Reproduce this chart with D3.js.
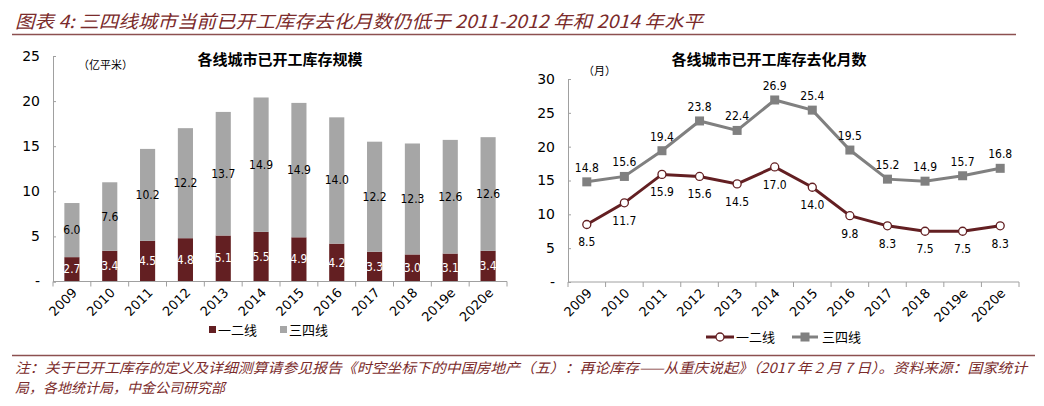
<!DOCTYPE html>
<html><head><meta charset="utf-8">
<script src="https://cdn.jsdelivr.net/npm/d3@7"></script>
<style>
body{margin:0;background:#fff;}
svg{display:block;}
</style></head>
<body>
<svg id="c" width="1044" height="406"></svg>
<script>
const categories = ['2009','2010','2011','2012','2013','2014','2015','2016','2017','2018','2019e','2020e'];
const stockTier12 = [2.7,3.4,4.5,4.8,5.1,5.5,4.9,4.2,3.3,3.0,3.1,3.4];
const stockTier34 = [6.0,7.6,10.2,12.2,13.7,14.9,14.9,14.0,12.2,12.3,12.6,12.6];
const monthsTier12 = [8.5,11.7,15.9,15.6,14.5,17.0,14.0,9.8,8.3,7.5,7.5,8.3];
const monthsTier34 = [14.8,15.6,19.4,23.8,22.4,26.9,25.4,19.5,15.2,14.9,15.7,16.8];
const leftTicks = [0,5,10,15,20,25];
const rightTicks = [0,5,10,15,20,25,30];
const seriesNames = ['一二线','三四线'];

const DARK = '#631f22', GRAY = '#a6a6a6', LGRAY = '#808080', AXIS = '#a0a0a0', RED = '#7b2b2b';
const NUM = '"DejaVu Sans Condensed","DejaVu Sans",Verdana,sans-serif';
const AXF = '"DejaVu Sans",Verdana,sans-serif';
const CJK = '"Noto Sans CJK SC","Noto Sans",sans-serif';

const svg = d3.select('#c');

// Header
svg.append('text').attr('x',15).attr('y',28)
  .attr('font-family',CJK).attr('font-style','italic').attr('font-size',18).attr('fill',RED)
  .attr('textLength',688).attr('lengthAdjust','spacingAndGlyphs')
  .text('图表 4: 三四线城市当前已开工库存去化月数仍低于 2011-2012 年和 2014 年水平');
svg.append('line').attr('x1',12).attr('x2',1016).attr('y1',34.5).attr('y2',34.5)
  .attr('stroke','#8c5050').attr('stroke-width',1.5);

// ---------- Left chart ----------
const xL = d3.scaleBand().domain(categories).range([53,507]).paddingInner(0.6).paddingOuter(0.3);
const xLb = d3.scaleBand().domain(categories).range([53,507]);
const yL = d3.scaleLinear().domain([0,25]).range([281.5,56]);

const gL = svg.append('g');
const yAxL = d3.axisLeft(yL).tickValues(leftTicks).tickSize(-3).tickPadding(13)
  .tickFormat(d=> d===0 ? '-' : d);
const gyL = gL.append('g').attr('transform','translate(53,0)').call(yAxL);
gyL.select('.domain').attr('stroke',AXIS);
gyL.selectAll('.tick line').attr('stroke',AXIS);
gyL.selectAll('.tick text').attr('font-family',AXF).attr('font-size',14).attr('fill','#000');

const stacked = categories.map((c,i)=>({c, a:stockTier12[i], b:stockTier34[i]}));
gL.selectAll('rect.d').data(stacked).enter().append('rect')
  .attr('x',d=>xL(d.c)).attr('width',xL.bandwidth())
  .attr('y',d=>yL(d.a)).attr('height',d=>yL(0)-yL(d.a)).attr('fill',DARK);
gL.selectAll('rect.g').data(stacked).enter().append('rect')
  .attr('x',d=>xL(d.c)).attr('width',xL.bandwidth())
  .attr('y',d=>yL(d.a+d.b)).attr('height',d=>yL(d.a)-yL(d.a+d.b)).attr('fill',GRAY);
gL.selectAll('text.ld').data(stacked).enter().append('text')
  .attr('x',d=>xL(d.c)+xL.bandwidth()/2).attr('y',d=>yL(d.a/2)+4)
  .attr('text-anchor','middle').attr('font-family',NUM).attr('font-size',12).attr('fill','#fff')
  .text(d=>d.a.toFixed(1));
gL.selectAll('text.lg').data(stacked).enter().append('text')
  .attr('x',d=>xL(d.c)+xL.bandwidth()/2).attr('y',d=>yL(d.a+d.b/2)+4)
  .attr('text-anchor','middle').attr('font-family',NUM).attr('font-size',12).attr('fill','#000')
  .text(d=>d.b.toFixed(1));

function xAxis(g, band, x0, x1, y){
  g.append('line').attr('x1',x0).attr('x2',x1).attr('y1',y).attr('y2',y).attr('stroke',AXIS);
  const bounds = band.domain().map(d=>band(d)).concat([x1]);
  g.selectAll('line.t').data(bounds).enter().append('line')
    .attr('x1',d=>d).attr('x2',d=>d).attr('y1',y).attr('y2',y+5).attr('stroke',AXIS);
  g.selectAll('text.xl').data(band.domain()).enter().append('text')
    .attr('transform',d=>`translate(${band(d)+band.bandwidth()/2+6},${y+12}) rotate(-45)`)
    .attr('text-anchor','end').attr('font-family',AXF).attr('font-size',13).attr('fill','#000')
    .text(d=>d);
}
xAxis(gL, xLb, 53, 507, 281.5);

gL.append('text').attr('x',280).attr('y',65).attr('text-anchor','middle')
  .attr('font-family',CJK).attr('font-weight','bold').attr('font-size',15).attr('fill','#000')
  .text('各线城市已开工库存规模');
gL.append('text').attr('x',78).attr('y',69)
  .attr('font-family',CJK).attr('font-size',11).attr('fill','#000').text('（亿平米）');

const legL = gL.append('g');
legL.append('rect').attr('x',209).attr('y',326).attr('width',7).attr('height',7).attr('fill',DARK);
legL.append('text').attr('x',218).attr('y',335).attr('font-family',CJK).attr('font-size',13).text(seriesNames[0]);
legL.append('rect').attr('x',280).attr('y',326).attr('width',7).attr('height',7).attr('fill',GRAY);
legL.append('text').attr('x',289).attr('y',335).attr('font-family',CJK).attr('font-size',13).text(seriesNames[1]);

// ---------- Right chart ----------
const xR = d3.scaleBand().domain(categories).range([568,1019]);
const yR = d3.scaleLinear().domain([0,30]).range([282,79]);
const gR = svg.append('g');
const yAxR = d3.axisLeft(yR).tickValues(rightTicks).tickSize(-3).tickPadding(13)
  .tickFormat(d=> d===0 ? '-' : d);
const gyR = gR.append('g').attr('transform','translate(568,0)').call(yAxR);
gyR.select('.domain').attr('stroke',AXIS);
gyR.selectAll('.tick line').attr('stroke',AXIS);
gyR.selectAll('.tick text').attr('font-family',AXF).attr('font-size',14).attr('fill','#000');
xAxis(gR, xR, 568, 1019, 282);

const cx = d=>xR(d)+xR.bandwidth()/2;
const line = d3.line().x(d=>cx(d.c)).y(d=>yR(d.v));
const s34 = categories.map((c,i)=>({c, v:monthsTier34[i]}));
const s12 = categories.map((c,i)=>({c, v:monthsTier12[i]}));

gR.append('path').datum(s34).attr('d',line).attr('fill','none').attr('stroke',LGRAY).attr('stroke-width',3);
gR.selectAll('rect.m').data(s34).enter().append('rect')
  .attr('x',d=>cx(d.c)-4.5).attr('y',d=>yR(d.v)-4.5).attr('width',9).attr('height',9).attr('fill',LGRAY);
gR.append('path').datum(s12).attr('d',line).attr('fill','none').attr('stroke',DARK).attr('stroke-width',3);
gR.selectAll('circle.m').data(s12).enter().append('circle')
  .attr('cx',d=>cx(d.c)).attr('cy',d=>yR(d.v)).attr('r',4).attr('fill','#fff').attr('stroke',DARK).attr('stroke-width',1.3);

gR.selectAll('text.l34').data(s34).enter().append('text')
  .attr('x',d=>cx(d.c)).attr('y',d=>yR(d.v)-10)
  .attr('text-anchor','middle').attr('font-family',NUM).attr('font-size',12).attr('fill','#000')
  .text(d=>d.v.toFixed(1));
gR.selectAll('text.l12').data(s12).enter().append('text')
  .attr('x',d=>cx(d.c)).attr('y',d=>yR(d.v)+22)
  .attr('text-anchor','middle').attr('font-family',NUM).attr('font-size',12).attr('fill','#000')
  .text(d=>d.v.toFixed(1));

gR.append('text').attr('x',769).attr('y',65).attr('text-anchor','middle')
  .attr('font-family',CJK).attr('font-weight','bold').attr('font-size',15).attr('fill','#000')
  .text('各线城市已开工库存去化月数');
gR.append('text').attr('x',583).attr('y',75)
  .attr('font-family',CJK).attr('font-size',11).attr('fill','#000').text('（月）');

const legR = gR.append('g');
legR.append('line').attr('x1',706).attr('x2',734).attr('y1',337).attr('y2',337).attr('stroke',DARK).attr('stroke-width',3);
legR.append('circle').attr('cx',720).attr('cy',337).attr('r',4).attr('fill','#fff').attr('stroke',DARK).attr('stroke-width',1.3);
legR.append('text').attr('x',736).attr('y',342).attr('font-family',CJK).attr('font-size',13).text(seriesNames[0]);
legR.append('line').attr('x1',792).attr('x2',818).attr('y1',337).attr('y2',337).attr('stroke',LGRAY).attr('stroke-width',3);
legR.append('rect').attr('x',800.5).attr('y',332.5).attr('width',9).attr('height',9).attr('fill',LGRAY);
legR.append('text').attr('x',822).attr('y',342).attr('font-family',CJK).attr('font-size',13).text(seriesNames[1]);

// Footnote
svg.append('line').attr('x1',12).attr('x2',1035).attr('y1',355.5).attr('y2',355.5)
  .attr('stroke','#8c5050').attr('stroke-width',1.5);
svg.append('text').attr('x',15).attr('y',373)
  .attr('font-family',CJK).attr('font-style','italic').attr('font-size',14).attr('fill',RED)
  .attr('textLength',1012).attr('lengthAdjust','spacingAndGlyphs')
  .text('注：关于已开工库存的定义及详细测算请参见报告《时空坐标下的中国房地产（五）：再论库存——从重庆说起》（2017 年 2 月 7 日）。资料来源：国家统计');
svg.append('text').attr('x',15).attr('y',393)
  .attr('font-family',CJK).attr('font-style','italic').attr('font-size',14).attr('fill',RED)
  .text('局，各地统计局，中金公司研究部');
</script>
</body></html>
